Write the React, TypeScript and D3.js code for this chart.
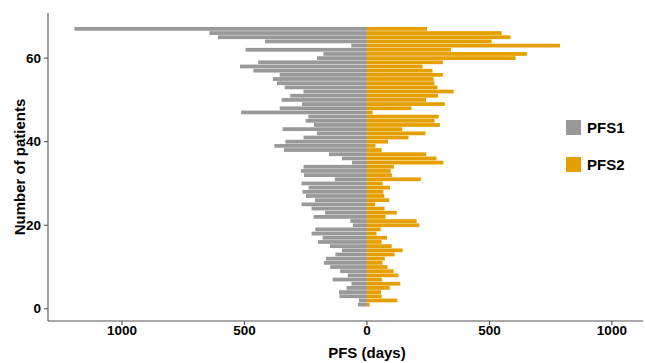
import * as d3 from "d3";

// ── Data (days, patient 1 at bottom) ─────────────────────────
const PATIENTS = d3.range(1, 68);

const PFS1 = [
  37, 33, 112, 114, 83, 63, 140, 78, 109, 150, 176, 167, 129,
  102, 151, 200, 181, 226, 211, 57, 68, 218, 171, 226, 267, 212, 249,
  263, 238, 267, 131, 257, 269, 259, 61, 102, 155, 339, 378, 333,
  259, 204, 344, 216, 250, 239, 514, 356, 265, 348, 313, 259, 336, 367,
  384, 356, 464, 518, 444, 204, 178, 495, 64, 416, 608, 643, 1194,
];

const PFS2 = [
  11, 124, 60, 57, 93, 136, 61, 129, 109, 84, 63, 73, 113,
  146, 101, 60, 82, 39, 56, 214, 203, 76, 122, 72, 33, 91, 71,
  67, 94, 64, 220, 102, 97, 110, 312, 284, 242, 60, 35, 86,
  170, 239, 144, 298, 276, 293, 23, 182, 318, 241, 290, 354, 288, 275,
  272, 310, 268, 227, 310, 607, 653, 343, 788, 509, 586, 550, 245,
];

const X_TICKS = [-1000, -500, 0, 500, 1000];
const Y_TICKS = [0, 20, 40, 60];
const SERIES = ["PFS1", "PFS2"];
const COLORS = ["#999999", "#E69F00"];

const W = 645;
const H = 363;
const FONT = "'Liberation Sans', Arial, Helvetica, sans-serif";

export default function App() {
  const x = d3.scaleLinear().domain([-1302, 1127]).range([48, 643]);
  const y = d3.scaleLinear().domain([-2.8, 70.8]).range([320.5, 13]);
  const bh = (y(0) - y(1)) * 0.9;
  const axisColor = "#555555";

  return (
    <svg
      width={W}
      height={H}
      style={{ position: "absolute", left: 0, top: 0, background: "#fff" }}
      fontFamily={FONT}
    >
      {/* bars */}
      {PATIENTS.map((p, i) => (
        <g key={p}>
          <rect
            x={x(-PFS1[i])}
            y={y(p) - bh / 2}
            width={x(0) - x(-PFS1[i])}
            height={bh}
            fill={COLORS[0]}
          />
          <rect
            x={x(0)}
            y={y(p) - bh / 2}
            width={x(PFS2[i]) - x(0)}
            height={bh}
            fill={COLORS[1]}
          />
        </g>
      ))}

      {/* axes */}
      <line x1={48} x2={48} y1={13} y2={321} stroke={axisColor} strokeWidth={1.1} />
      <line x1={48} x2={643} y1={321} y2={321} stroke={axisColor} strokeWidth={1.1} />

      {Y_TICKS.map((t) => (
        <g key={t}>
          <line x1={44} x2={48} y1={y(t)} y2={y(t)} stroke={axisColor} strokeWidth={1.1} />
          <text
            x={41}
            y={y(t)}
            textAnchor="end"
            dominantBaseline="central"
            fontSize={13.5}
            fontWeight="bold"
            fill="#000"
          >
            {t}
          </text>
        </g>
      ))}

      {X_TICKS.map((t) => (
        <g key={t}>
          <line x1={x(t)} x2={x(t)} y1={321} y2={325} stroke={axisColor} strokeWidth={1.1} />
          <text
            x={x(t)}
            y={334.5}
            textAnchor="middle"
            fontSize={13.5}
            fontWeight="bold"
            fill="#000"
          >
            {Math.abs(t)}
          </text>
        </g>
      ))}

      <text
        x={x(0)}
        y={358}
        textAnchor="middle"
        fontSize={15}
        fontWeight="bold"
        fill="#000"
      >
        PFS (days)
      </text>
      <text
        transform={`translate(25,${(13 + 321) / 2}) rotate(-90)`}
        textAnchor="middle"
        fontSize={15}
        fontWeight="bold"
        fill="#000"
      >
        Number of patients
      </text>

      {/* legend */}
      {SERIES.map((s, i) => (
        <g key={s} transform={`translate(566,${120 + i * 37})`}>
          <rect width={15} height={15} fill={COLORS[i]} />
          <text
            x={21}
            y={7.5}
            dominantBaseline="central"
            fontSize={15}
            fontWeight="bold"
            fill="#000"
          >
            {s}
          </text>
        </g>
      ))}
    </svg>
  );
}
